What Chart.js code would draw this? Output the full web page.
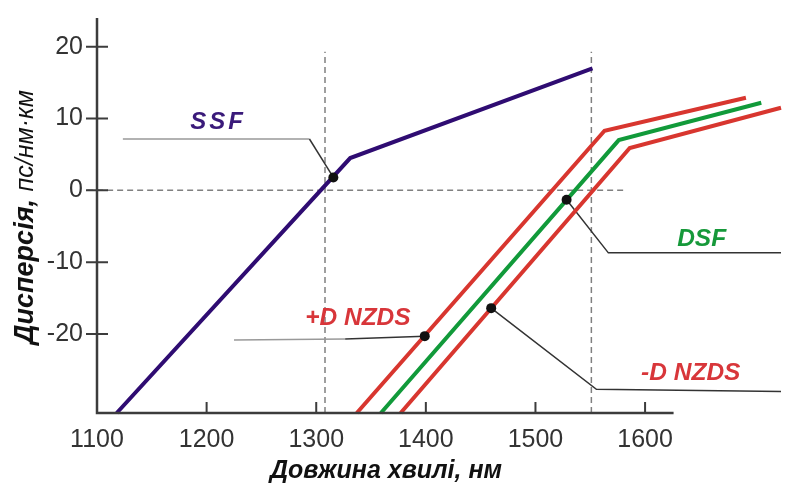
<!DOCTYPE html>
<html>
<head>
<meta charset="utf-8">
<script src="https://cdn.jsdelivr.net/npm/chart.js@4.4.1/dist/chart.umd.min.js"></script>
<style>
  html, body { margin: 0; padding: 0; background: #fff; }
  #wrap { width: 786px; height: 484px; position: relative; }
</style>
</head>
<body>
<div id="wrap"><canvas id="dispChart"></canvas></div>
<script>
// axis ticks: wavelength (nm) and dispersion (ps/nm·km)
const xTicks = [1100, 1200, 1300, 1400, 1500, 1600];
const yTicks = [-20, -10, 0, 10, 20];

// fibre dispersion curves, break points
const ssfX = [1118, 1331, 1552];
const ssfY = [-31, 4.5, 17];
const nzdsPlusX = [1337, 1563, 1692];
const nzdsPlusY = [-31, 8.3, 12.9];
const dsfX = [1359, 1576, 1706];
const dsfY = [-31, 7.0, 12.2];
const nzdsMinusX = [1377, 1586, 1724];
const nzdsMinusY = [-31, 5.9, 11.5];

// marked points: SSF, +D NZDS, DSF, -D NZDS
const markX = [1315.6, 1399, 1528.4, 1459.6];
const markY = [1.8, -20.3, -1.3, -16.4];

// reference wavelengths 1310 / 1550 and zero line
const refX = [1308, 1551];
const refTop = 19.3;
const zeroX = [1091, 1583];

// callout lines (gray run, then dark run to the marker)
const ssfLeadX = [1123.6, 1293.8, 1315.6];
const ssfLeadY = [7.15, 7.15, 1.8];
const plusLeadX = [1225, 1326.4, 1399];
const plusLeadY = [-20.85, -20.7, -20.3];
const dsfLeadX = [1528.4, 1566.5, 1724];
const dsfLeadY = [-1.3, -8.7, -8.7];
const minusLeadX = [1459.6, 1555.6, 1724];
const minusLeadY = [-16.4, -27.7, -28];

// callout captions
const capText = ['SSF', '+D NZDS', 'DSF', '-D NZDS'];
const capX = [1210.5, 1338, 1651.6, 1641.7];
const capY = [9.5, -17.8, -6.8, -25.4];
const capColor = ['#3a1a7a', '#d8363a', '#16993a', '#d8363a'];

const Y_MIN = -31, Y_MAX = 24;
const X_MIN = 1100, X_MAX = 1724;
const X_AXIS_END = 1626;

const pts = (xs, ys) => xs.map((x, i) => ({ x: x, y: ys[i] }));

function curve(xs, ys, color, order) {
  return {
    data: pts(xs, ys), showLine: true, borderColor: color, borderWidth: 4,
    pointRadius: 0, borderJoinStyle: 'miter', order: order, clip: false
  };
}
function thin(xs, ys, color, dash, order) {
  return {
    data: pts(xs, ys), showLine: true, borderColor: color, borderWidth: 1.5,
    borderDash: dash, pointRadius: 0, order: order, clip: false
  };
}
// first segment gray, the rest dark
function callout(xs, ys) {
  const ds = thin(xs, ys, '#333', [], 3);
  ds.segment = { borderColor: c => c.p0DataIndex === 0 ? '#999' : '#333' };
  return ds;
}

const datasets = [
  { data: pts(markX, markY), pointRadius: 5, pointBackgroundColor: '#111',
    pointBorderWidth: 0, showLine: false, order: 0 },
  curve(ssfX, ssfY, '#2f0c72', 1),
  curve(nzdsPlusX, nzdsPlusY, '#d8362f', 1),
  curve(dsfX, dsfY, '#119a3a', 1),
  curve(nzdsMinusX, nzdsMinusY, '#d8362f', 1),
  callout(ssfLeadX, ssfLeadY),
  callout(plusLeadX, plusLeadY),
  thin(dsfLeadX, dsfLeadY, '#333', [], 3),
  thin(minusLeadX, minusLeadY, '#333', [], 3),
  thin([refX[0], refX[0]], [Y_MIN, refTop], '#808080', [6, 4], 5),
  thin([refX[1], refX[1]], [Y_MIN, refTop], '#808080', [6, 4], 5),
  thin(zeroX, [0, 0], '#808080', [6, 4], 5)
];

// axis lines with tick marks
const axesPlugin = {
  id: 'axesLines',
  afterDatasetsDraw(chart) {
    const ctx = chart.ctx, a = chart.chartArea;
    const xs = chart.scales.x, ys = chart.scales.y;
    ctx.save();
    ctx.strokeStyle = '#3c3c3c';
    ctx.lineWidth = 2.5;
    ctx.beginPath();
    ctx.moveTo(a.left, a.top);
    ctx.lineTo(a.left, a.bottom);
    ctx.lineTo(xs.getPixelForValue(X_AXIS_END), a.bottom);
    ctx.stroke();
    ctx.lineWidth = 2;
    ctx.beginPath();
    xTicks.slice(1).forEach(v => {
      const px = xs.getPixelForValue(v);
      ctx.moveTo(px, a.bottom - 11);
      ctx.lineTo(px, a.bottom);
    });
    yTicks.forEach(v => {
      const py = ys.getPixelForValue(v);
      ctx.moveTo(a.left - 11, py);
      ctx.lineTo(a.left + 11, py);
    });
    ctx.stroke();
    ctx.restore();
  }
};

// captions and axis titles
const textPlugin = {
  id: 'captions',
  afterDraw(chart) {
    const ctx = chart.ctx;
    const xs = chart.scales.x, ys = chart.scales.y;
    ctx.save();
    ctx.textAlign = 'center';
    ctx.textBaseline = 'middle';
    capText.forEach((t, i) => {
      ctx.font = t === 'SSF' ? 'italic bold 24px "Liberation Sans"' : 'italic bold 24.5px "Liberation Sans"';
      ctx.letterSpacing = t === 'SSF' ? '3px' : '0px';
      ctx.fillStyle = capColor[i];
      ctx.fillText(t, xs.getPixelForValue(capX[i]), ys.getPixelForValue(capY[i]));
    });
    ctx.letterSpacing = '0px';

    // x title
    ctx.fillStyle = '#111';
    ctx.font = 'italic bold 25px "Liberation Sans"';
    ctx.textBaseline = 'alphabetic';
    ctx.fillText('Довжина хвилі, нм', 386, 478);

    // y title, rotated
    ctx.translate(33, 217);
    ctx.rotate(-Math.PI / 2);
    const p1 = 'Дисперсія, ';
    const p2 = 'пс/нм·км';
    const f1 = 'italic bold 27px "Liberation Sans"';
    const f2 = 'italic 25px "Liberation Sans"';
    ctx.font = f1;
    const w1 = ctx.measureText(p1).width;
    ctx.font = f2;
    const w2 = ctx.measureText(p2).width;
    ctx.textAlign = 'left';
    ctx.font = f1;
    ctx.fillText(p1, -(w1 + w2) / 2, 0);
    ctx.font = f2;
    ctx.fillText(p2, -(w1 + w2) / 2 + w1, 0);
    ctx.restore();
  }
};

new Chart(document.getElementById('dispChart'), {
  type: 'scatter',
  data: { datasets: datasets },
  options: {
    responsive: true,
    maintainAspectRatio: false,
    animation: false,
    layout: { padding: { top: 18, left: 0, right: 0, bottom: 0 } },
    plugins: { legend: { display: false }, tooltip: { enabled: false } },
    scales: {
      x: {
        type: 'linear', min: X_MIN, max: X_MAX,
        grid: { display: false, drawTicks: false }, border: { display: false },
        afterBuildTicks: s => { s.ticks = xTicks.map(v => ({ value: v })); },
        afterFit: s => { s.height = 71; s.paddingLeft = 0; s.paddingRight = 0; },
        ticks: {
          font: { family: 'Liberation Sans', size: 25 }, color: '#333',
          padding: 12, maxRotation: 0, autoSkip: false,
          callback: v => String(v)
        }
      },
      y: {
        type: 'linear', min: Y_MIN, max: Y_MAX,
        grid: { display: false, drawTicks: false }, border: { display: false },
        afterBuildTicks: s => { s.ticks = yTicks.map(v => ({ value: v })); },
        afterFit: s => { s.width = 97; s.paddingTop = 0; s.paddingBottom = 0; },
        ticks: {
          font: { family: 'Liberation Sans', size: 25 }, color: '#333',
          padding: 14
        }
      }
    }
  },
  plugins: [axesPlugin, textPlugin]
});
</script>
</body>
</html>
